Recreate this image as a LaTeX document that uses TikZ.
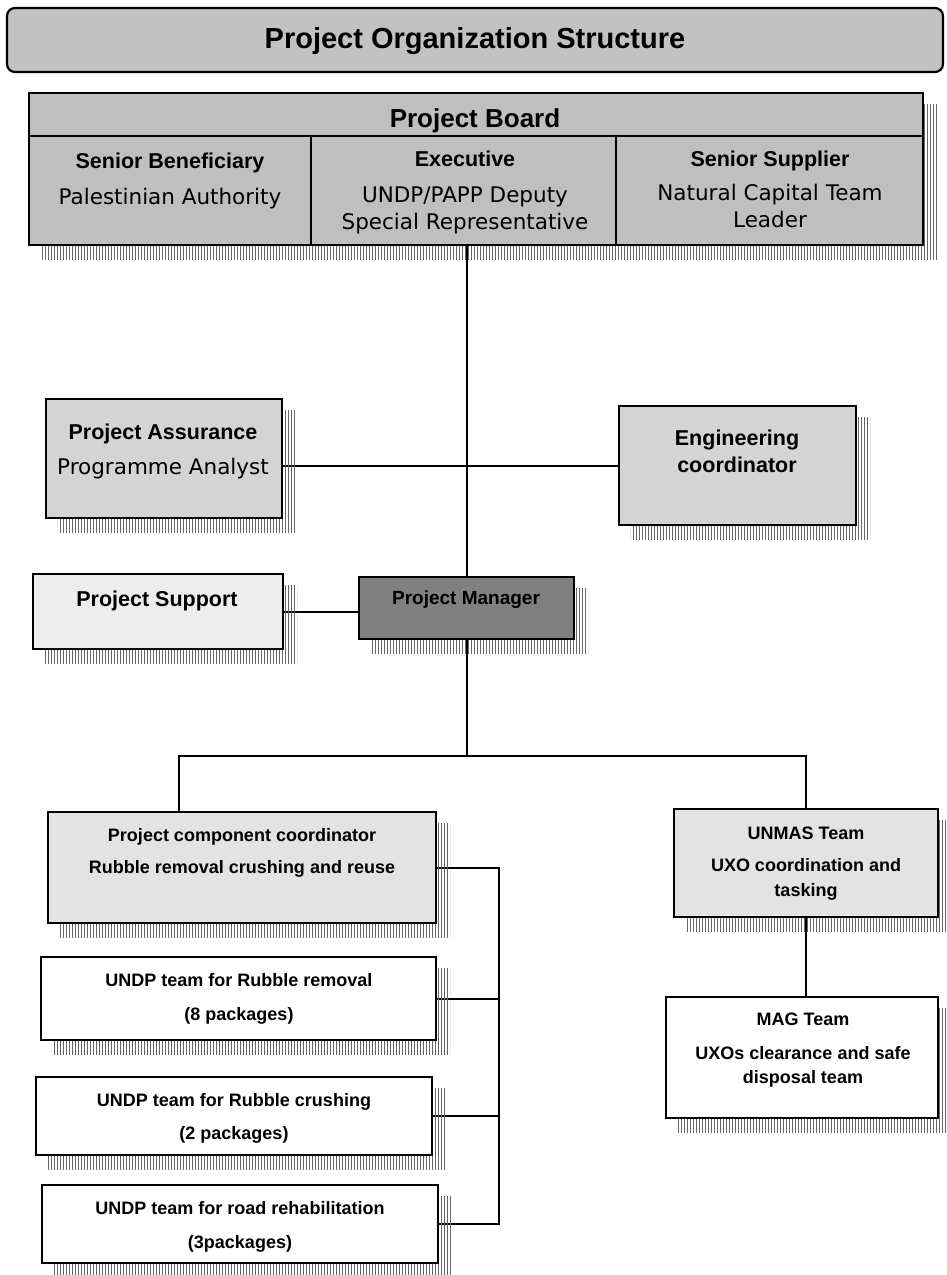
\documentclass[tikz,border=0pt]{standalone}
\usepackage{fontspec}
\setmainfont{Liberation Sans}
\newfontfamily\verd{DejaVu Sans}
\newfontfamily\boldsans{Liberation Sans Bold}
\usetikzlibrary{patterns,calc}
\pgfdeclarelayer{bg}
\pgfdeclarelayer{shd}
\pgfsetlayers{bg,shd,main}
\newcommand\shadowof[1]{\begin{pgfonlayer}{shd}\fill[shadowfill] ($(#1.north west)+(13,13)$) rectangle ($(#1.south east)+(13,13)$);\end{pgfonlayer}}
\begin{document}
\begin{tikzpicture}[x=1pt,y=-1pt,
  box/.style={draw=black, line width=2.2pt, rectangle, inner sep=0pt},
  conn/.style={line width=2pt},
  shadowfill/.style={pattern=vertical lines, pattern color=black!60},
  txt/.style={inner sep=0pt, text depth=0pt, anchor=center},
  ttl/.style={txt, text height=20.8pt, font=\fontsize{29}{31}\selectfont\bfseries},
  hbb/.style={txt, text height=18.6pt, font=\bfseries\fontsize{26}{28}\selectfont},
  hb/.style={txt, text height=15.4pt, font=\fontsize{21.5}{24}\selectfont\bfseries},
  rg/.style={txt, text height=15.7pt, font=\verd\fontsize{21.5}{24}\selectfont},
  sb/.style={txt, text height=12.9pt, font=\fontsize{18}{20}\selectfont\bfseries},
  pmt/.style={txt, text height=13.6pt, font=\fontsize{19}{21}\selectfont\bfseries}]
\useasboundingbox (0,0) rectangle (947,1275);

% boxes
\node[box, rounded corners=8pt, fill=black!24, minimum width=936, minimum height=64] (title) at (475,40) {};
\node[box, fill=black!25, minimum width=894, minimum height=152] (board) at (476,169) {};
\node[box, fill=black!17, minimum width=236, minimum height=119] (assur) at (164,458.5) {};
\node[box, fill=black!17, minimum width=237, minimum height=119] (eng) at (737.5,465.5) {};
\node[box, fill=black!7, minimum width=250, minimum height=75] (sup) at (158,611.5) {};
\node[box, fill=black!50, minimum width=215, minimum height=62] (pm) at (466.5,608) {};
\node[box, fill=black!11, minimum width=388, minimum height=111] (comp) at (242,867.5) {};
\node[box, fill=black!11, minimum width=264, minimum height=108] (unmas) at (806,863) {};
\node[box, fill=white, minimum width=395, minimum height=83] (rem) at (238.5,998.5) {};
\node[box, fill=white, minimum width=396, minimum height=78] (cru) at (234,1116) {};
\node[box, fill=white, minimum width=396, minimum height=78] (road) at (240,1224) {};
\node[box, fill=white, minimum width=272, minimum height=121] (mag) at (802,1057.5) {};

% board inner lines
\draw[line width=1.6pt] ($(board.north west)+(0,44)$) -- ($(board.north east)+(0,44)$);
\draw[line width=1.6pt] ($(board.north west)+(283,44)$) -- ($(board.south west)+(283,0)$);
\draw[line width=1.6pt] ($(board.north west)+(588,44)$) -- ($(board.south west)+(588,0)$);

% shadows
\shadowof{board}
\shadowof{assur}
\shadowof{eng}
\shadowof{sup}
\shadowof{pm}
\shadowof{comp}
\shadowof{unmas}
\shadowof{rem}
\shadowof{cru}
\shadowof{road}
\shadowof{mag}

% connectors
\coordinate (jn) at (466.5,756);
\coordinate (cdrop) at (179,756);
\coordinate (bus) at (499,0);
\begin{pgfonlayer}{bg}
\draw[conn] (pm.north) -- (pm.north |- board.south);
\draw[conn] (eng.west) -- (eng.west -| assur.east);
\draw[conn] (sup.east) -- (sup.east -| pm.west);
\draw[conn] (pm.south) -- (jn);
\draw[conn] (cdrop |- comp.north) -- (cdrop) -- (unmas.north |- jn) -- (unmas.north);
\draw[conn] (comp.east) -- (comp.east -| bus) -- (road.east -| bus) -- (road.east);
\draw[conn] (rem.east) -- (rem.east -| bus);
\draw[conn] (cru.east) -- (cru.east -| bus);
\draw[conn] (unmas.south) -- (unmas.south |- mag.north);
\end{pgfonlayer}

% texts
\node[ttl] (t0) at (475,38) {Project Organization Structure};
\node[hbb] (t1) at (475,118) {Project Board};
\node[hb] (t2) at (170,161) {Senior Beneficiary};
\node[rg] (t3) at (170,197) {Palestinian Authority};
\node[hb] (t4) at (465,159) {Executive};
\node[rg] (t5) at (465,195) {UNDP/PAPP Deputy};
\node[rg] (t6) at (465,222) {Special Representative};
\node[hb] (t7) at (770,159) {Senior Supplier};
\node[rg] (t8) at (770,193) {Natural Capital Team};
\node[rg] (t9) at (770,220) {Leader};
\node[hb] (t10) at (163,432) {Project Assurance};
\node[rg] (t11) at (163,467) {Programme Analyst};
\node[hb] (t12) at (737,438) {Engineering};
\node[hb] (t13) at (737,465) {coordinator};
\node[hb] (t14) at (157,599) {Project Support};
\node[pmt] (t15) at (466,598) {Project Manager};
\node[sb] (t16) at (242,835) {Project component coordinator};
\node[sb] (t17) at (242,867) {Rubble removal crushing and reuse};
\node[sb] (t18) at (239,980) {UNDP team for Rubble removal};
\node[sb] (t19) at (239,1014) {(8 packages)};
\node[sb] (t20) at (234,1100) {UNDP team for Rubble crushing};
\node[sb] (t21) at (234,1133) {(2 packages)};
\node[sb] (t22) at (240,1208) {UNDP team for road rehabilitation};
\node[sb] (t23) at (240,1242) {(3packages)};
\node[sb] (t24) at (806,833) {UNMAS Team};
\node[sb] (t25) at (806,865) {UXO coordination and};
\node[sb] (t26) at (806,890) {tasking};
\node[sb] (t27) at (803,1019) {MAG Team};
\node[sb] (t28) at (803,1053) {UXOs clearance and safe};
\node[sb] (t29) at (803,1077) {disposal team};
\end{tikzpicture}
\end{document}
